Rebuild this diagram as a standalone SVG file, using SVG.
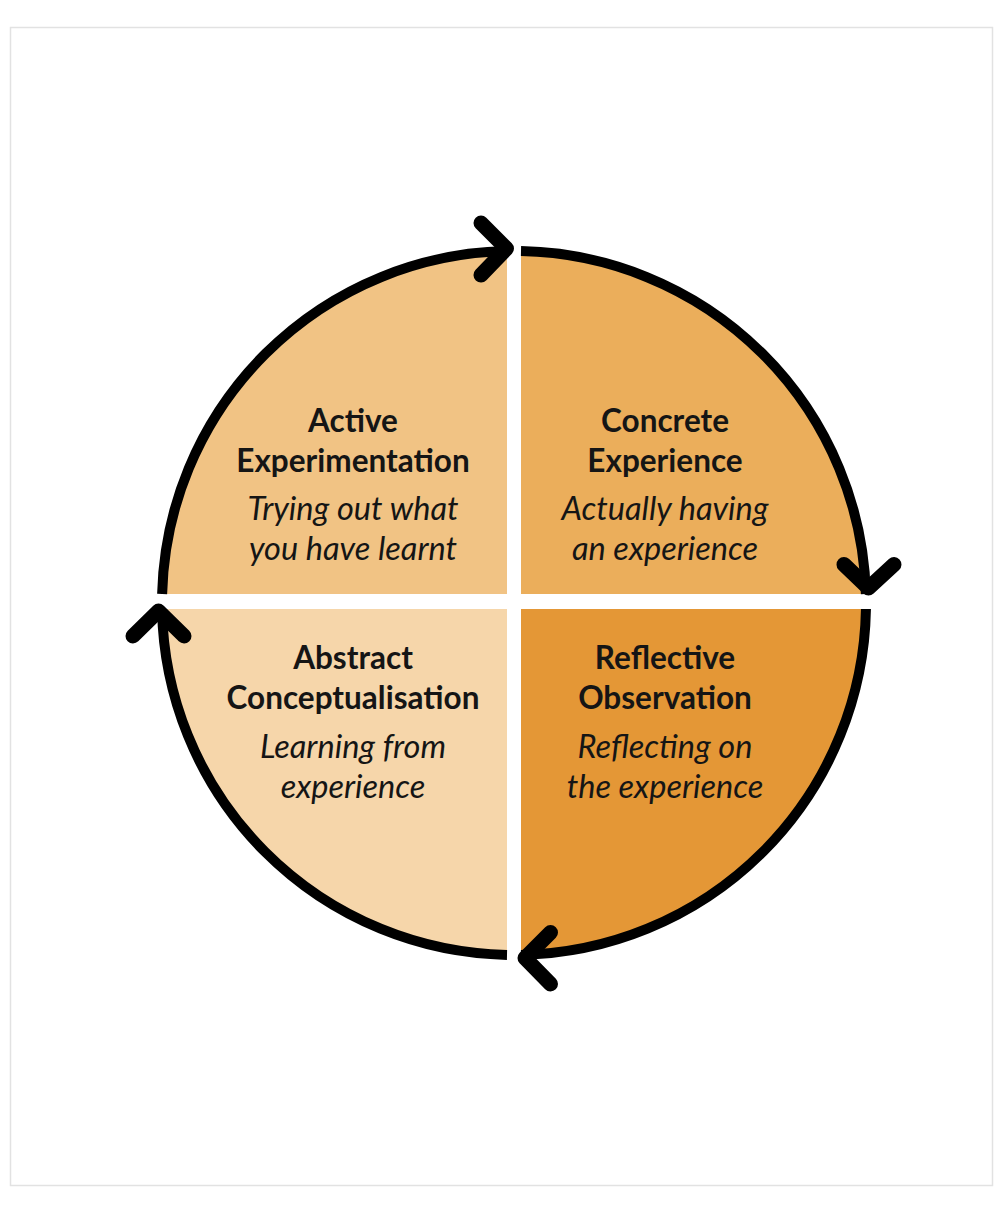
<svg xmlns="http://www.w3.org/2000/svg" width="1006" height="1224" viewBox="0 0 1006 1224">
<style>
.frame{fill:#ffffff;stroke:#e2e2e2;stroke-width:1.5}
.arc{fill:none;stroke:#000;stroke-width:10}
.head{fill:none;stroke:#000;stroke-width:15;stroke-linecap:round;stroke-linejoin:round}
.t{font-family:Lato,"Open Sans","Liberation Sans",sans-serif;font-weight:700;font-size:31.5px;fill:#151515;text-anchor:middle}
.s{font-family:Lato,"Open Sans","Liberation Sans",sans-serif;font-style:italic;font-weight:400;font-size:32.5px;fill:#151515;text-anchor:middle}
</style>
<rect width="1006" height="1224" fill="#ffffff"/>
<rect class="frame" x="10.5" y="27.5" width="982" height="1158"/>
<g id="active-experimentation">
<path d="M507 594 L162.12 594 A352 352 0 0 1 507 251.07 Z" fill="#F1C384"/>
<text class="t" x="353" y="432">Active</text>
<text class="t" x="353" y="472">Experimentation</text>
<text class="s" x="353" y="520">Trying out what</text>
<text class="s" x="353" y="560">you have learnt</text>
</g>
<g id="concrete-experience">
<path d="M521 594 L521 251.07 A352 352 0 0 1 865.88 594 Z" fill="#EBAE5B"/>
<text class="t" x="665" y="432">Concrete</text>
<text class="t" x="665" y="472">Experience</text>
<text class="s" x="665" y="520">Actually having</text>
<text class="s" x="665" y="560">an experience</text>
</g>
<g id="reflective-observation">
<path d="M521 609 L865.95 609 A352 352 0 0 1 521 954.93 Z" fill="#E49736"/>
<text class="t" x="665" y="669">Reflective</text>
<text class="t" x="665" y="709">Observation</text>
<text class="s" x="665" y="758">Reflecting on</text>
<text class="s" x="665" y="798">the experience</text>
</g>
<g id="abstract-conceptualisation">
<path d="M507 609 L507 954.93 A352 352 0 0 1 162.05 609 Z" fill="#F6D6AA"/>
<text class="t" x="353" y="669">Abstract</text>
<text class="t" x="353" y="709">Conceptualisation</text>
<text class="s" x="353" y="758">Learning from</text>
<text class="s" x="353" y="798">experience</text>
</g>
<g id="connectors">
<path class="arc" d="M162.12 594 A352 352 0 0 1 507 251.07"/>
<polyline class="head" points="481,223 506.5,248.5 481,275"/>
<path class="arc" d="M521 251.07 A352 352 0 0 1 865.88 594"/>
<polyline class="head" points="844,564.5 868.5,588 894,564.5"/>
<path class="arc" d="M865.95 609 A352 352 0 0 1 521 954.93"/>
<polyline class="head" points="550.5,932.5 525,958 550.5,984"/>
<path class="arc" d="M507 954.93 A352 352 0 0 1 162.05 609"/>
<polyline class="head" points="133,636 158.5,611 184,636"/>
</g>
</svg>
